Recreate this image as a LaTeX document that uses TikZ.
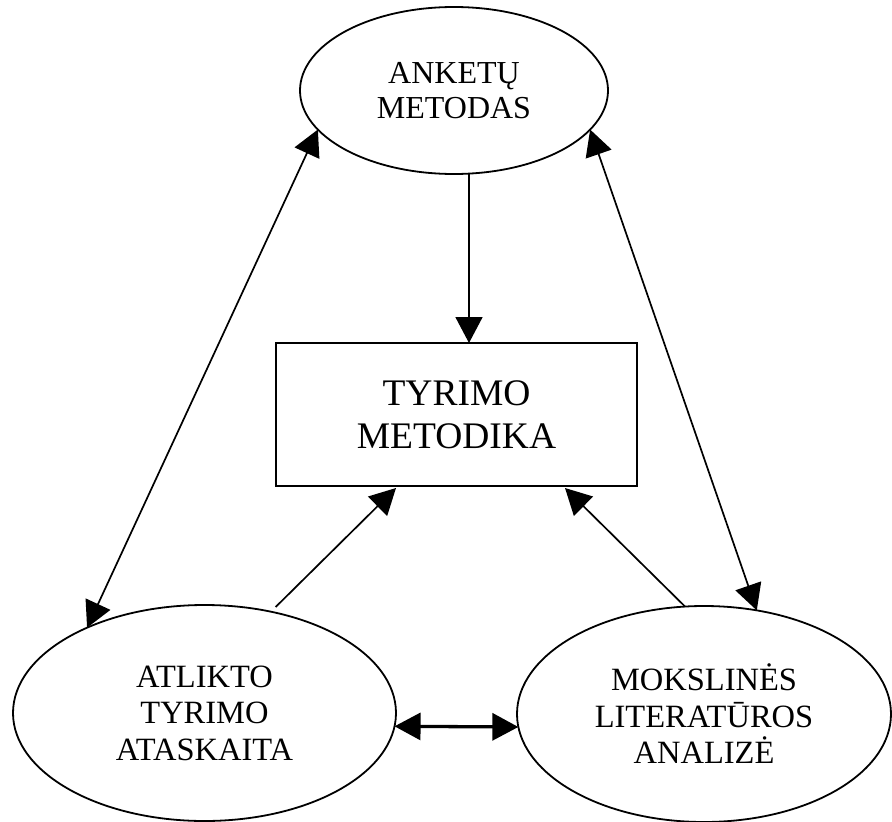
\documentclass[tikz,border=0pt]{standalone}
\usepackage{fontspec}
\setmainfont{Liberation Serif}
\usetikzlibrary{shapes.geometric,arrows.meta}
\begin{document}
\begin{tikzpicture}[x=1pt,y=-1pt,
  ell/.style={ellipse,draw,line width=1.8pt,inner sep=0pt,outer sep=0pt,align=center,
    font=\fontsize{32.5}{36.5}\selectfont},
  mbox/.style={rectangle,draw,line width=1.8pt,inner sep=0pt,outer sep=0pt,align=center,
    font=\fontsize{37.5}{43}\selectfont},
  arr/.style={line width=1.7pt,-{Triangle[length=26pt,width=27pt]}},
  darr/.style={line width=1.7pt,{Triangle[length=26pt,width=27pt]}-{Triangle[length=26pt,width=27pt]}},
  thickarr/.style={line width=3.3pt,{Triangle[length=26pt,width=27pt]}-{Triangle[length=26pt,width=27pt]}}
]
\useasboundingbox (0,0) rectangle (892,822);

\node[ell,minimum width=308pt,minimum height=167pt,font=\fontsize{32}{35.5}\selectfont] (ank) at (454,90.5) {ANKETŲ\\METODAS};
\node[mbox,minimum width=361pt,minimum height=143pt] (tm) at (456.5,414.5) {TYRIMO\\METODIKA};
\node[ell,minimum width=383pt,minimum height=216pt] (atl) at (204.5,713) {ATLIKTO\\TYRIMO\\ATASKAITA};
\node[ell,minimum width=374pt,minimum height=216pt] (mok) at (704,714) {MOKSLINĖS\\LITERATŪROS\\ANALIZĖ};

\draw[arr] ([xshift=15pt]ank.south) -- ([xshift=12.5pt]tm.north);
\draw[arr] ([xshift=3pt,yshift=5pt]atl.56) -- ([xshift=-60.5pt,yshift=-2pt]tm.south);
\draw[arr] (mok.100.6) -- ([xshift=108.5pt,yshift=-2pt]tm.south);
\draw[darr] (ank.196.8) -- (atl.144.9);
\draw[darr] (ank.344) -- (mok.63.9);
\draw[thickarr] (atl.-4.2) -- (mok.184);
\end{tikzpicture}
\end{document}
